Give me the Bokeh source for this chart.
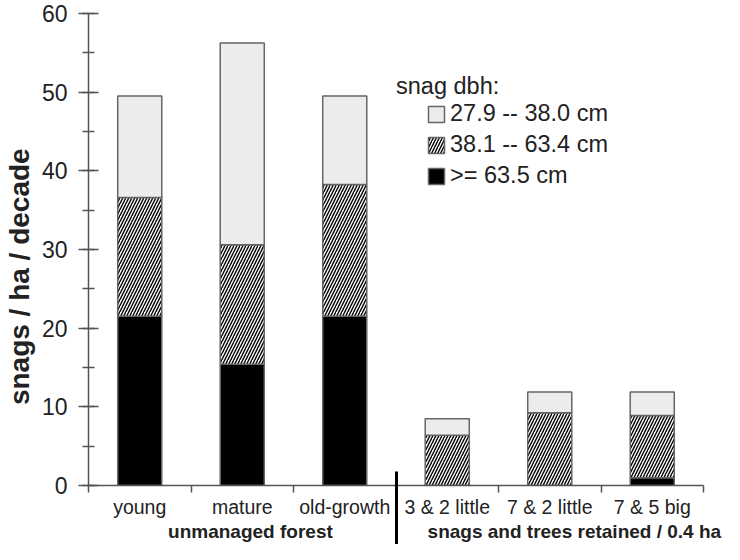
from bokeh.plotting import figure
from bokeh.models import (Range1d, FixedTicker, SingleIntervalTicker, LinearAxis,
                          Legend, LegendItem, Label, ColumnDataSource)
from bokeh.embed import file_html
from bokeh.resources import INLINE

# ---- data ----
categories = ["young", "mature", "old-growth", "3 & 2 little", "7 & 2 little", "7 & 5 big"]
groups = ["unmanaged forest", "snags and trees retained / 0.4 ha"]
large = [21.5, 15.4, 21.5, 0.0, 0.0, 1.0]          # >= 63.5 cm
medium = [15.1, 15.2, 16.75, 6.4, 9.25, 7.9]        # 38.1 -- 63.4 cm
small = [12.9, 25.65, 11.25, 2.1, 2.65, 3.0]        # 27.9 -- 38.0 cm
series_labels = ["27.9 -- 38.0 cm", "38.1 -- 63.4 cm", ">= 63.5 cm"]
y_label = "snags / ha / decade"
legend_title = "snag dbh:"
group_divider = 3  # boundary between the two groups of categories

FONT = "Liberation Sans"
TXT = "#222222"
AX = "#555555"

xc = [i + 0.5 for i in range(len(categories))]
src = ColumnDataSource(dict(x=xc, large=large, medium=medium, small=small))

p = figure(width=724, height=544, output_backend="svg", toolbar_location=None,
           x_range=Range1d(0, len(categories)), y_range=Range1d(0, 60),
           x_axis_location=None,
           min_border_left=87, min_border_right=21, min_border_top=13, min_border_bottom=53)
p.grid.visible = False
p.outline_line_color = None
p.background_fill_color = "white"

rs = p.vbar_stack(["large", "medium", "small"], x="x", width=0.43, source=src,
                  fill_color=["black", "white", "#ececec"],
                  line_color="#666666", line_width=1.5,
                  hatch_pattern=[" ", "/", " "], hatch_color="black",
                  hatch_scale=6, hatch_weight=1.4)

# y axis
ya = p.yaxis[0]
ya.ticker = SingleIntervalTicker(interval=10, num_minor_ticks=2)
ya.axis_line_color = AX
ya.axis_line_width = 1.5
ya.major_tick_line_color = AX
ya.major_tick_line_width = 1.5
ya.major_tick_in = 10
ya.major_tick_out = 10
ya.minor_tick_line_color = AX
ya.minor_tick_line_width = 1.5
ya.minor_tick_in = 6
ya.minor_tick_out = 6
ya.major_label_text_font = FONT
ya.major_label_text_font_size = "23px"
ya.major_label_text_color = TXT
ya.major_label_standoff = 11
# trailing no-break spaces move the (centred) title a little below the frame centre
ya.axis_label = y_label + "\u00a0" * 7
ya.axis_label_text_font = FONT
ya.axis_label_text_font_size = "28px"
ya.axis_label_text_font_style = "bold"
ya.axis_label_text_color = TXT
ya.axis_label_standoff = 4

# x axis: category labels at centers, ticks at boundaries
xa = LinearAxis(ticker=FixedTicker(ticks=xc, minor_ticks=list(range(len(categories) + 1))),
                major_label_overrides={x: c for x, c in zip(xc, categories)})
xa.axis_line_color = AX
xa.axis_line_width = 1.5
xa.major_tick_line_color = None
xa.major_tick_in = 0
xa.major_tick_out = 0
xa.minor_tick_line_color = AX
xa.minor_tick_line_width = 1.5
xa.minor_tick_in = 0
xa.minor_tick_out = 7
xa.major_label_text_font = FONT
xa.major_label_text_font_size = "19.5px"
xa.major_label_text_color = TXT
xa.major_label_standoff = 3
p.add_layout(xa, "below")

# group labels
gpos = [1.58, 4.74]
ga = LinearAxis(ticker=FixedTicker(ticks=gpos),
                major_label_overrides={x: g for x, g in zip(gpos, groups)})
ga.axis_line_color = None
ga.major_tick_line_color = None
ga.minor_tick_line_color = None
ga.major_tick_in = 0
ga.major_tick_out = 0
ga.minor_tick_in = 0
ga.minor_tick_out = 0
ga.major_label_text_font = FONT
ga.major_label_text_font_size = "19px"
ga.major_label_text_font_style = "bold"
ga.major_label_text_color = TXT
ga.major_label_standoff = 0
p.add_layout(ga, "below")

# divider between the two groups: a tick pointing up from the bottom edge
da = LinearAxis(ticker=FixedTicker(ticks=[], minor_ticks=[group_divider]))
da.axis_line_color = None
da.major_tick_line_color = None
da.major_tick_in = 0
da.major_tick_out = 0
da.major_label_standoff = 0
da.minor_tick_line_color = "black"
da.minor_tick_line_width = 3
da.minor_tick_in = 73
da.minor_tick_out = 0
p.add_layout(da, "below")

# legend
legend = Legend(items=[LegendItem(label=series_labels[0], renderers=[rs[2]]),
                       LegendItem(label=series_labels[1], renderers=[rs[1]]),
                       LegendItem(label=series_labels[2], renderers=[rs[0]])],
                location=(338, 296), glyph_width=20, glyph_height=20,
                label_text_font=FONT, label_text_font_size="23.5px", label_text_color=TXT,
                spacing=4, padding=0, margin=0, label_standoff=4,
                border_line_color=None, background_fill_alpha=0)
p.add_layout(legend)

p.add_layout(Label(x=3.0, y=50.75, text=legend_title, text_baseline="middle",
                   text_font=FONT, text_font_size="23.5px", text_color=TXT))

open("out.html", "w").write(file_html(p, INLINE))
